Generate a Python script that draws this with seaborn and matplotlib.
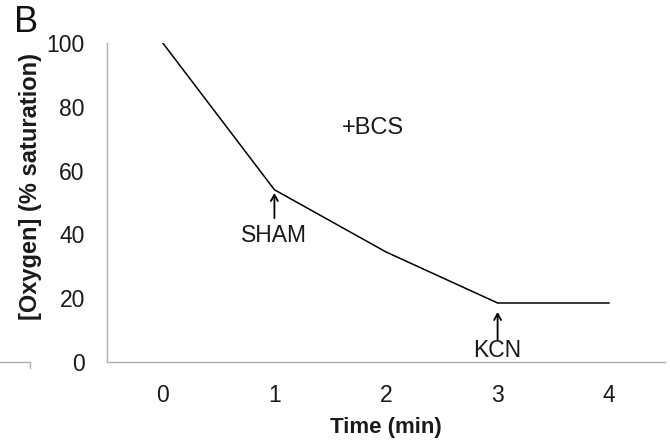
import matplotlib
matplotlib.use("Agg")
import matplotlib.pyplot as plt
from matplotlib.lines import Line2D
import seaborn as sns
import pandas as pd

time_min = [0, 1, 2, 3, 4]
oxygen = [100, 54, 34.5, 18.5, 18.5]
x_ticks = [0, 1, 2, 3, 4]
y_ticks = [0, 20, 40, 60, 80, 100]

sns.set_style("white")
plt.rcParams['font.family'] = ['Liberation Sans', 'DejaVu Sans']

df = pd.DataFrame({"Time (min)": time_min, "Oxygen": oxygen})

W, H = 670, 448
fig = plt.figure(figsize=(6.7, 4.48), dpi=100)
ax = fig.add_axes([107/W, 1 - 362/H, (665 - 107)/W, (362 - 43)/H])
sns.lineplot(data=df, x="Time (min)", y="Oxygen", ax=ax, color="black", linewidth=1.1)

ax.set_xlim(-0.5, 4.5)
ax.set_ylim(0, 100)
ax.set_xticks(x_ticks)
ax.set_xticks([-0.5 + i for i in range(1, 5)], minor=True)
ax.set_yticks(y_ticks)
txt = '#1a1a1a'
ax.tick_params(axis='x', which='major', length=0, labelsize=16.5, pad=16, colors=txt)
ax.tick_params(axis='x', which='minor', length=5, width=1, color='#b0b0b0', direction='out')
ax.tick_params(axis='y', which='major', length=7, width=1, color='#b0b0b0', labelsize=16.5,
               labelcolor=txt, pad=9, direction='out')
for s in ['top', 'right']:
    ax.spines[s].set_visible(False)
for s in ['left', 'bottom']:
    ax.spines[s].set_color('#b0b0b0')
    ax.spines[s].set_linewidth(1)

ax.set_xlabel("Time (min)", fontsize=16, fontweight='bold', color=txt, labelpad=7)
ax.set_ylabel("[Oxygen] (% saturation)", fontsize=17, fontweight='bold', color=txt)
ax.yaxis.set_label_coords((42 - 107) / (665 - 107), (362 - 186) / (362 - 43))

ax.text(1.88, 73.2, "+BCS", fontsize=17, ha='center', va='center', color=txt)

arrow = dict(arrowstyle='->, head_length=0.45, head_width=0.25', color='black', lw=1.3,
             shrinkA=0, shrinkB=0)
ax.annotate("", xy=(1, 53.0), xytext=(1, 45.1), arrowprops=arrow)
ax.text(1, 39.7, "SHAM", fontsize=16.5, ha='center', va='center', color=txt)
ax.annotate("", xy=(3, 15.7), xytext=(3, 6.9), arrowprops=arrow)
ax.text(3, 3.7, "KCN", fontsize=16.5, ha='center', va='center', color=txt)

fig.text(26/W, 1 - 23/H, "B", fontsize=26, ha='center', va='center', color='#111111')

# fragment of neighbouring panel axis at left edge
fig.add_artist(Line2D([0, 30/W], [1 - 362/H, 1 - 362/H], color='#b0b0b0', lw=1,
                      transform=fig.transFigure))
fig.add_artist(Line2D([30/W, 30/W], [1 - 362/H, 1 - 368/H], color='#b0b0b0', lw=1,
                      transform=fig.transFigure))

fig.savefig("out.png", dpi=100)
